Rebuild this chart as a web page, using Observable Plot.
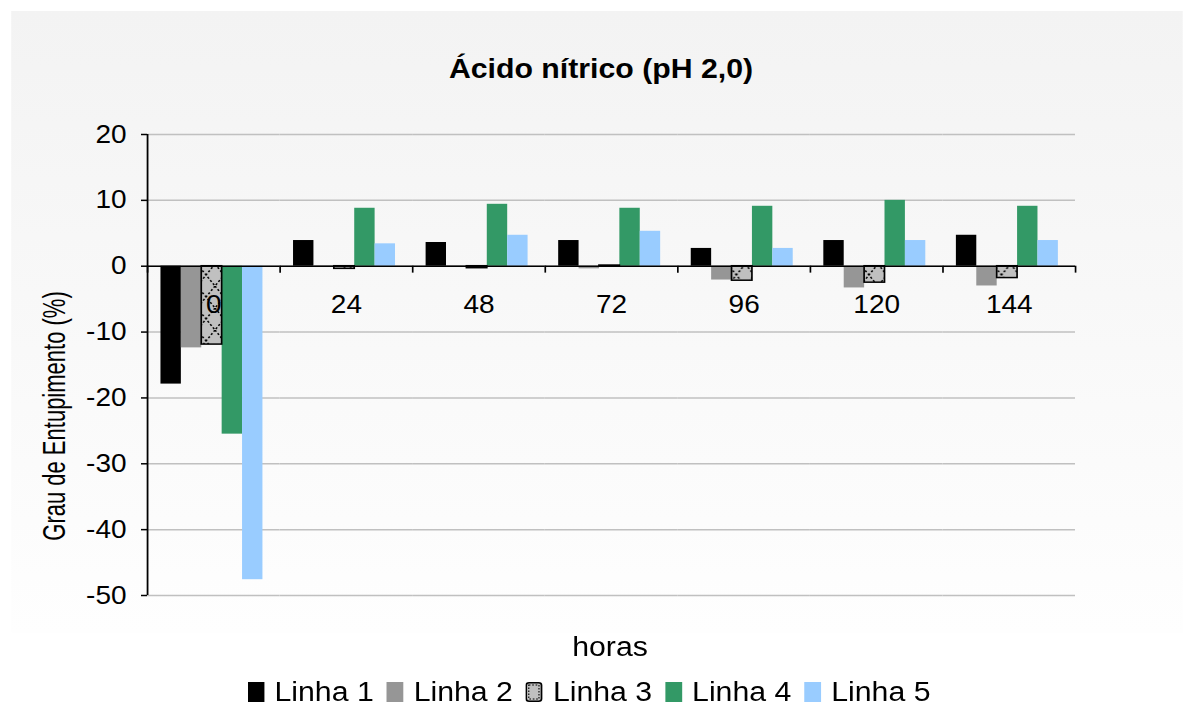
<!DOCTYPE html>
<html>
<head>
<meta charset="utf-8">
<script src="https://cdn.jsdelivr.net/npm/d3@7"></script>
<script src="https://cdn.jsdelivr.net/npm/@observablehq/plot@0.6"></script>
<style>
  html, body { margin: 0; padding: 0; background: #ffffff; overflow: hidden; }
  #wrap { position: relative; height: 706px; transform-origin: 0 0;
          font-family: "Liberation Sans", Arial, sans-serif; color: #000; }
  #bg { position: absolute; background: linear-gradient(#f3f3f3, #fefefe); }
  #chart { position: absolute; left: 0; top: 0; }
  .t { position: absolute; white-space: nowrap; }
  .title { font-weight: bold; }
  .legend { display: flex; align-items: center; }
  .legend .item { display: flex; align-items: center; }
  .legend .sw { display: inline-block; }
</style>
</head>
<body>
<div id="wrap">
  <div id="bg"></div>
  <div id="chart"></div>
  <div class="t title" id="title">Ácido nítrico (pH 2,0)</div>
  <div class="t" id="ylab">Grau de Entupimento (%)</div>
  <div class="t" id="xlab">horas</div>
  <div class="t legend" id="legend"></div>
</div>
<script>
// ---- data ----
const hours = ["0", "24", "48", "72", "96", "120", "144"];
const series = ["Linha 1", "Linha 2", "Linha 3", "Linha 4", "Linha 5"];
const linha1 = [-17.9, 3.9, 3.6, 3.9, 2.7, 3.9, 4.7];
const linha2 = [-12.4, 0.1, 0.1, -0.4, -2.1, -3.3, -3.0];
const linha3 = [-11.9, -0.4, -0.3, 0.1, -2.2, -2.5, -1.8];
const linha4 = [-25.5, 8.8, 9.4, 8.8, 9.1, 10.0, 9.1];
const linha5 = [-47.6, 3.4, 4.7, 5.3, 2.7, 3.9, 3.9];
const yTicks = [-50, -40, -30, -20, -10, 0, 10, 20];
const colors = ["#000000", "#969696", "url(#pat3)", "#339966", "#99ccff"];

const seriesValues = [linha1, linha2, linha3, linha4, linha5];
const rows = hours.flatMap((h, i) => series.map((s, j) => ({hour: h, series: s, value: seriesValues[j][i]})));

// ---- layout (horizontal stretch like the source picture) ----
const S = 1.12;
const FW = 1183, H = 706;
const W = FW / S;
const ux = v => v / S; // stretched px -> unstretched px

const wrap = document.getElementById("wrap");
wrap.style.width = W + "px";
wrap.style.transform = `scaleX(${S})`;

const bg = document.getElementById("bg");
Object.assign(bg.style, {left: ux(11) + "px", top: "11px", width: ux(1172) + "px", height: "622px"});

const mL = ux(147), mR = ux(108), mT = 134, mB = 111;
const padOuter = 0.75, align = 0.44;
const facetW = (W - mL - mR) / hours.length;
const step = facetW / (series.length + 2 * padOuter);
const startOff = (facetW - series.length * step) * align;
const leftEdgeDx = -(startOff + step / 2);
const rightEdgeDx = facetW - (startOff + (series.length - 0.5) * step);

const svg = Plot.plot({
  width: W, height: H,
  marginLeft: mL, marginRight: mR, marginTop: mT, marginBottom: mB,
  style: {fontFamily: "Liberation Sans, Arial, sans-serif", fontSize: "25px", background: "transparent", color: "black", overflow: "visible"},
  fx: {domain: hours, padding: 0, round: false, axis: null},
  x: {domain: series, paddingInner: 0, paddingOuter: padOuter, align: align, round: false, axis: null},
  y: {domain: [-50, 20], axis: null},
  color: {domain: series, range: colors},
  marks: [
    Plot.gridY(yTicks, {stroke: "#c0c0c0", strokeOpacity: 1, strokeWidth: 1.5}),
    Plot.barY(rows, {fx: "hour", x: "series", y: "value", fill: "series"}),
    Plot.barY(rows.filter(d => d.series === "Linha 3"), {fx: "hour", x: "series", y: "value", fill: "none", stroke: "black", strokeWidth: 1.5}),
    Plot.ruleY([0], {stroke: "black", strokeWidth: 1.6}),
    Plot.ruleX(hours, {fx: d => d, x: () => "Linha 1", y1: 0, y2: -1.05, dx: leftEdgeDx, stroke: "black", strokeWidth: 1.5}),
    Plot.ruleX(["144"], {fx: d => d, x: () => "Linha 5", y1: 0, y2: -1.05, dx: rightEdgeDx, stroke: "black", strokeWidth: 1.5}),
    Plot.ruleX(["0"], {fx: d => d, x: () => "Linha 1", y1: -50, y2: 20, dx: leftEdgeDx, stroke: "black", strokeWidth: 1.6}),
    Plot.axisY({ticks: yTicks, tickFormat: d => String(d), tickSize: ux(6), tickPadding: ux(15), fontSize: 25, strokeWidth: 1.5, label: null}),
    Plot.text(hours, {fx: d => d, y: () => 0, text: d => d, dy: 39, fontSize: 25, fill: "black"})
  ]
});

d3.select(svg).insert("defs", ":first-child").html(
  `<pattern id="pat3" patternUnits="userSpaceOnUse" width="16" height="22">
     <rect width="16" height="22" fill="#c0c0c0"></rect>
     <path d="M0,0L16,22M16,0L0,22" stroke="black" stroke-width="1.4" stroke-dasharray="2,2" fill="none"></path>
   </pattern>`);

document.getElementById("chart").appendChild(svg);

// ---- texts ----
function place(id, cx, top, size, lh, extra) {
  const el = document.getElementById(id);
  Object.assign(el.style, {left: ux(cx) + "px", top: top + "px", fontSize: size + "px", lineHeight: lh + "px",
                           transform: "translateX(-50%)"}, extra || {});
  return el;
}
place("title", 601, 56, 27, 27);
place("xlab", 610, 634, 27, 27);
place("ylab", 55, 416, 22, 26, {transform: "translate(-50%, -50%) rotate(-90deg) scaleY(1.3)"});

// ---- legend ----
const legend = d3.select("#legend");
place("legend", 589, 680, 27, 24);
series.forEach((s, j) => {
  const item = legend.append("div").attr("class", "item").style("margin-right", j < series.length - 1 ? ux(13) + "px" : "0px");
  let sw;
  if (s === "Linha 3") {
    sw = item.append("svg").attr("class", "sw").attr("viewBox", "0 0 15 20").attr("preserveAspectRatio", "none")
      .html(`<rect x="0.75" y="0.75" width="13.5" height="18.5" rx="2.5" fill="#c0c0c0" stroke="black" stroke-width="1.5"></rect>
             <rect x="3" y="3" width="9" height="14" fill="none" stroke="black" stroke-width="1" stroke-dasharray="1.5,1.5"></rect>`);
  } else {
    sw = item.append("span").attr("class", "sw").style("background", colors[j]);
  }
  sw.style("width", ux(17) + "px").style("height", "20px").style("margin-right", ux(10) + "px");
  item.append("span").text(s);
});
</script>
</body>
</html>
